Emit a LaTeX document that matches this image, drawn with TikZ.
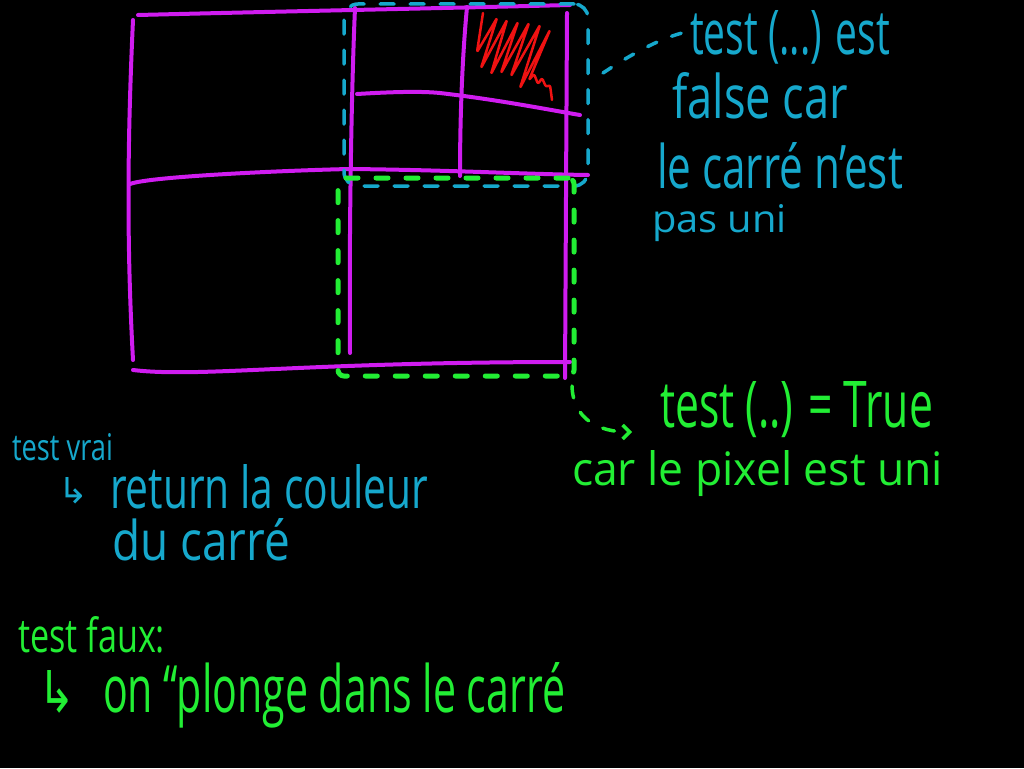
\documentclass[tikz,border=0pt]{standalone}
\usepackage{fontspec}
\setmainfont{Open Sans}
\newfontfamily\symfont{DejaVu Sans}
\usetikzlibrary{arrows.meta}
\definecolor{mag}{RGB}{208,28,240}
\definecolor{cyn}{RGB}{22,168,204}
\definecolor{grn}{RGB}{34,238,52}
\definecolor{rd}{RGB}{240,18,18}
\newcommand{\hw}[3]{\resizebox{#1pt}{#2pt}{#3}}
\tikzset{
  grid/.style={draw=mag, line width=4pt, line cap=round, line join=round},
  cbox/.style={draw=cyn, line width=3.5pt, line cap=round, dash pattern=on 14pt off 16pt, rounded corners=14pt, inner sep=0pt},
  gbox/.style={draw=grn, line width=5pt, line cap=round, dash pattern=on 12pt off 18pt, rounded corners=6pt, inner sep=0pt},
  hand/.style={anchor=base west, inner sep=0pt, outer sep=0pt},
  ctext/.style={hand, text=cyn},
  gtext/.style={hand, text=grn},
}
\begin{document}
\begin{tikzpicture}[x=1pt,y=-1pt]
\useasboundingbox (0,0) rectangle (1024,768);
\fill[black] (0,0) rectangle (1024,768);

% magenta grid
\draw[grid] (138,15) .. controls (300,11) and (450,8) .. (570,5);
\draw[grid] (133,20) .. controls (127,150) and (127,250) .. (133,360);
\draw[grid] (133,370) .. controls (200,378) and (300,362) .. (570,362);
\draw[grid] (130,184) .. controls (150,176) and (300,170) .. (350,169) .. controls (450,170) and (520,174) .. (588,175);
\draw[grid] (355,8) .. controls (351,100) and (349,250) .. (350,353);
\draw[grid] (567,13) -- (565,378);
\draw[grid] (467,7) .. controls (462,60) and (460,120) .. (460,176);
\draw[grid] (357,94) .. controls (390,92) and (420,91) .. (440,93) .. controls (500,100) and (550,110) .. (580,115);

% red scribble
\draw[rd, line width=2.5pt, line cap=round, line join=round, rounded corners=2pt]
  (483,13) -- (477,52) -- (497,18) -- (481,68) -- (507,20) -- (491,74) -- (518,22) -- (501,73)
  -- (529,23) -- (511,76) -- (540,25) -- (520,88) -- (550,30) -- (529,80) -- (534,74) -- (538,84)
  -- (542,78) -- (546,87) -- (550,85) -- (552,100);

% dashed boxes
\node[cbox, minimum width=244pt, minimum height=182pt] (cyanbox) at (466,95) {};
\node[gbox, minimum width=236pt, minimum height=198pt] (greenbox) at (456,277) {};

% texts right
\node[ctext] (t1) at (690,55) {\hw{200}{44}{test (...) est}};
\node[ctext] (t2) at (672,118) {\hw{176}{46}{false car}};
\node[ctext] (t3) at (657,188) {\hw{246}{46}{le carré n'est}};
\node[ctext] (t4) at (652,232) {\hw{135}{28}{pas uni}};
\node[gtext] (g1) at (660,427) {\hw{273}{46}{test (..) = True}};
\node[gtext] (g2) at (572,485) {\hw{371}{35}{car le pixel est uni}};

% texts bottom left
\node[ctext] (c1) at (12,460) {\hw{101}{27}{test vrai}};
\node[ctext] (c2) at (58,503) {\hw{30}{26}{\symfont ↳}};
\node[ctext] (c3) at (110,508) {\hw{318}{44}{return la couleur}};
\node[ctext] (c4) at (112,560) {\hw{178}{42}{du carré}};
\node[gtext] (g3) at (18,652) {\hw{147}{36}{test faux:}};
\node[gtext] (g4) at (38,712) {\hw{37}{42}{\symfont ↳}};
\node[gtext] (g5) at (103,712) {\hw{462}{50}{on “plonge dans le carré}};

% connectors
\coordinate (cs) at (603,73);
\coordinate (ce) at (686,32);
\draw[cyn, line width=3.5pt, line cap=round, dash pattern=on 10pt off 16pt] (cs) .. controls (630,55) and (660,38) .. (ce);
\coordinate (gs) at (572,386);
\coordinate (ge) at (632,432);
\draw[grn, line width=3.5pt, line cap=round, dash pattern=on 12pt off 16pt, -{Straight Barb[length=7pt,width=14pt]}] (gs) .. controls (573,420) and (600,432) .. (ge);
\end{tikzpicture}
\end{document}
